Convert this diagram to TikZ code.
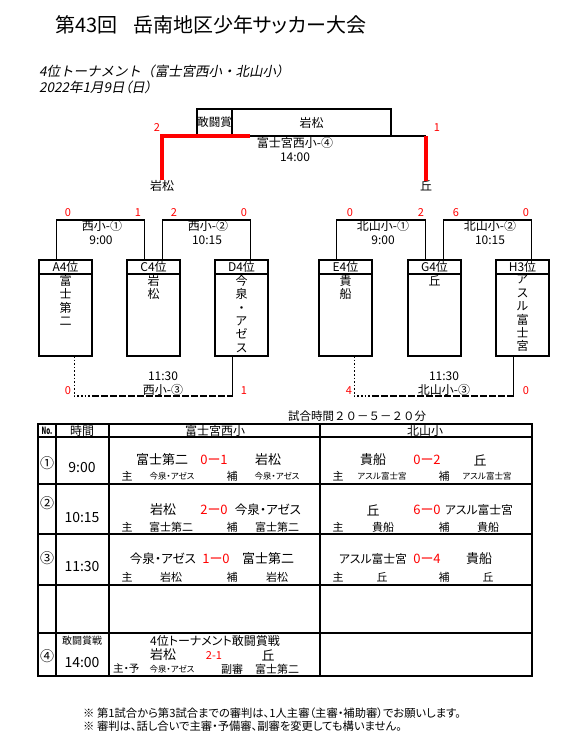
\documentclass[tikz,border=0pt]{standalone}
\usepackage{fontspec}
\setmainfont{Noto Sans CJK JP}[RawFeature=+palt]
\newfontfamily\widefont{Noto Sans CJK JP}
\newfontfamily\slantfont{Noto Sans CJK JP}[FakeSlant=0.2,RawFeature=+palt]
\newfontfamily\wideslant{Noto Sans CJK JP}[FakeSlant=0.2]
\usetikzlibrary{calc}

\newcommand{\fsz}[1]{\fontsize{#1bp}{#1bp}\selectfont}

\begin{document}
\begin{tikzpicture}[x=1bp, y=-1bp,
    line/.style={line width=1.6bp},
    win/.style={line width=3.2bp, red},
    grid/.style={line width=1.8bp},
    teambox/.style={draw, line width=1.6bp, minimum width=53bp, minimum height=96bp,
        inner sep=0pt, outer sep=0pt, anchor=north west},
    vtxt/.style={inner sep=0pt, anchor=north, align=center, font={\fontsize{12bp}{13.4bp}\selectfont}},
    txt/.style={inner sep=0pt, font=\fsz{12}},
    score/.style={inner sep=0pt, text=red, font=\fsz{11}},
    cell/.style={inner sep=0pt, font=\fsz{13}},
    pts/.style={inner sep=0pt, text=red, font=\fsz{13}},
    role/.style={inner sep=0pt, font=\fsz{11}},
    small/.style={inner sep=0pt, font=\fsz{8.5}},
    time/.style={inner sep=0pt, font=\fsz{14}}]
    \fill[white] (0,0) rectangle (569,737);
    \useasboundingbox (0,0) rectangle (569,737);

    % heading
    \node[inner sep=0pt, anchor=west, font=\fsz{20}] (title1) at (55,25) {第43回};
    \node[inner sep=0pt, anchor=west, font=\fsz{20}] (title2) at (133,25) {岳南地区少年サッカー大会};
    \node[inner sep=0pt, anchor=west, font=\wideslant\fsz{13.5}] (sub1) at (39,71) {4位トーナメント（富士宮西小・北山小）};
    \node[inner sep=0pt, anchor=west, font=\slantfont\fsz{13.5}] (sub2) at (39,87) {2022年1月9日（日）};

    % final for the award
    \node[draw, line width=1.6bp, minimum width=35bp, minimum height=27bp, inner sep=0pt, outer sep=0pt,
        anchor=north west, font=\fsz{11.5}] (award) at (197,109) {敢闘賞};
    \node[draw, line width=1.6bp, minimum width=159bp, minimum height=27bp, inner sep=0pt, outer sep=0pt,
        anchor=north west, font=\fsz{12}] (winner) at (232,109) {岩松};
    \node[txt] (finL) at (162,186) {岩松};
    \node[txt] (finR) at (426,186) {丘};
    \coordinate (fM) at (250,136);
    \draw[line] (fM) -- (fM -| finR.north);
    \draw[win] (finL.north) |- (fM);
    \draw[win] (finR.north) -- (finR.north |- fM);
    \node[score] (finLs) at (157,128) {2};
    \node[score] (finRs) at (437,128) {1};
    \node[txt] (finG) at (295,143) {富士宮西小-④};
    \node[txt] (finT) at (295,157) {14:00};

    % team boxes
    \foreach \nm/\x/\hd/\bd in {A4/39/A4位/{富\\士\\第\\二}, C4/127/C4位/{岩\\松},
        D4/215/D4位/{今\\泉\\・\\ア\\ゼ\\ス}, E4/319/E4位/{貴\\船}, G4/408/G4位/{丘},
        H3/496/H3位/{ア\\ス\\ル\\富\\士\\宮}} {
        \node[teambox] (\nm) at (\x,260) {};
        \draw[line] ($(\nm.north west)+(0,14)$) -- ($(\nm.north east)+(0,14)$);
        \node[txt] (\nm-hd) at ($(\nm.north)+(0,7)$) {\hd};
        \node[vtxt] (\nm-bd) at ($(\nm.north)+(0,15)$) {\bd};
    }

    % first and second games
    \draw[line] ($(A4.north west)!1/3!(A4.north east)$) -- ++(0,-40) -| ($(C4.north west)!1/3!(C4.north east)$);
    \draw[line] ($(C4.north west)!2/3!(C4.north east)$) -- ++(0,-40) -| ($(D4.north west)!2/3!(D4.north east)$);
    \draw[line] ($(E4.north west)!1/3!(E4.north east)$) -- ++(0,-40) -| ($(G4.north west)!1/3!(G4.north east)$);
    \draw[line] ($(G4.north west)!2/3!(G4.north east)$) -- ++(0,-40) -| ($(H3.north west)!2/3!(H3.north east)$);

    \node[txt] (w1) at (102,226) {西小-①};  \node[txt] (w1t) at (101,240) {9:00};
    \node[txt] (w2) at (208,226) {西小-②};  \node[txt] (w2t) at (207,240) {10:15};
    \node[txt] (k1) at (383,226) {北山小-①};  \node[txt] (k1t) at (383,240) {9:00};
    \node[txt] (k2) at (490,226) {北山小-②};  \node[txt] (k2t) at (490,240) {10:15};

    \node[score] (w1a) at (68,213) {0};   \node[score] (w1b) at (138,213) {1};
    \node[score] (w2a) at (174,213) {2};  \node[score] (w2b) at (244,213) {0};
    \node[score] (k1a) at (350,213) {0};  \node[score] (k1b) at (421,213) {2};
    \node[score] (k2a) at (456,213) {6};  \node[score] (k2b) at (526,213) {0};

    % third games
    \coordinate (A4s) at ($(A4.south west)!2/3!(A4.south east)$);
    \coordinate (D4s) at ($(D4.south west)!1/3!(D4.south east)$);
    \draw[line, dotted] (A4s) -- ++(0,40) -- ++(18,0) coordinate (w3a);
    \draw[line, dash pattern=on 7bp off 2bp] (w3a) -- (w3a -| D4s) coordinate (w3b);
    \draw[line] (w3b) -- (D4s);
    \coordinate (E4s) at ($(E4.south west)!2/3!(E4.south east)$);
    \coordinate (H3s) at ($(H3.south west)!1/3!(H3.south east)$);
    \draw[line, dotted] (E4s) -- ++(0,40) -- ++(18,0) coordinate (k3a);
    \draw[line, dash pattern=on 7bp off 2bp] (k3a) -- (k3a -| H3s) coordinate (k3b);
    \draw[line] (k3b) -- (H3s);

    \node[txt] (w3t) at (163,376) {11:30};  \node[txt] (w3) at (163,390) {西小-③};
    \node[txt] (k3t) at (444,376) {11:30};  \node[txt] (k3) at (444,390) {北山小-③};
    \node[score] (w3sa) at (68,391) {0};   \node[score] (w3sb) at (244,391) {1};
    \node[score] (k3sa) at (349,391) {4};  \node[score] (k3sb) at (526,391) {0};

    % schedule table
    \node[inner sep=0pt, font=\widefont\fsz{11.5}] (rule) at (357,416) {試合時間２０－５－２０分};
    \draw[grid] (38,424) rectangle (532,676);
    \foreach \y in {437,484,534,585,633} \draw[grid] (38,\y) -- (532,\y);
    \foreach \x in {56,109,320} \draw[grid] (\x,424) -- (\x,676);

    \node[inner sep=0pt, font=\bfseries\fsz{10}] (hNo) at (47,431) {\scalebox{0.62}[1]{No.}};
    \node[txt] (hTime) at (82,431) {時間};
    \node[txt] (hW) at (215,431) {富士宮西小};
    \node[txt] (hK) at (425,431) {北山小};

    % game 1
    \node[time] (n1) at (47,463) {①};  \node[time] (t1) at (82,468) {9:00};
    \node[cell] (g1a) at (162,460) {富士第二};  \node[pts] (g1s) at (214,460) {0ー1};  \node[cell] (g1b) at (268,460) {岩松};
    \node[role] (g1m) at (127,476) {主};  \node[small] (g1mr) at (172,476) {今泉・アゼス};
    \node[role] (g1h) at (232,476) {補};  \node[small] (g1hr) at (277,476) {今泉・アゼス};
    \node[cell] (h1a) at (373,460) {貴船};  \node[pts] (h1s) at (427,460) {0ー2};  \node[cell] (h1b) at (480,460) {丘};
    \node[role] (h1m) at (338,476) {主};  \node[small] (h1mr) at (382,476) {アスル富士宮};
    \node[role] (h1h) at (444,476) {補};  \node[small] (h1hr) at (487,476) {アスル富士宮};

    % game 2
    \node[time] (n2) at (47,503) {②};  \node[time] (t2) at (82,518) {10:15};
    \node[cell] (g2a) at (163,510) {岩松};  \node[pts] (g2s) at (214,510) {2ー0};
    \node[cell, font=\fsz{12.5}] (g2b) at (268,510) {今泉・アゼス};
    \node[role] (g2m) at (127,527) {主};  \node[role] (g2mr) at (171,527) {富士第二};
    \node[role] (g2h) at (232,527) {補};  \node[role] (g2hr) at (277,527) {富士第二};
    \node[cell] (h2a) at (373,510) {丘};  \node[pts] (h2s) at (427,510) {6ー0};
    \node[cell, font=\fsz{11.8}] (h2b) at (479,510) {アスル富士宮};
    \node[role] (h2m) at (338,527) {主};  \node[role] (h2mr) at (383,527) {貴船};
    \node[role] (h2h) at (444,527) {補};  \node[role] (h2hr) at (488,527) {貴船};

    % game 3
    \node[time] (n3) at (47,558) {③};  \node[time] (t3) at (82,567) {11:30};
    \node[cell, font=\fsz{12.5}] (g3a) at (163,559) {今泉・アゼス};  \node[pts] (g3s) at (216,559) {1ー0};  \node[cell] (g3b) at (268,559) {富士第二};
    \node[role] (g3m) at (127,577) {主};  \node[role] (g3mr) at (171,577) {岩松};
    \node[role] (g3h) at (232,577) {補};  \node[role] (g3hr) at (277,577) {岩松};
    \node[cell, font=\fsz{11.8}] (h3a) at (373,559) {アスル富士宮};  \node[pts] (h3s) at (427,559) {0ー4};  \node[cell] (h3b) at (479,559) {貴船};
    \node[role] (h3m) at (338,577) {主};  \node[role] (h3mr) at (382,577) {丘};
    \node[role] (h3h) at (444,577) {補};  \node[role] (h3hr) at (488,577) {丘};

    % game 4
    \node[time] (n4) at (47,656) {④};
    \node[inner sep=0pt, font=\fsz{10}] (t4a) at (82,641) {敢闘賞戦};
    \node[time] (t4) at (82,662) {14:00};
    \node[txt] (g4) at (215,641) {4位トーナメント敢闘賞戦};
    \node[cell] (g4a) at (163,655) {岩松};  \node[score] (g4s) at (214,655) {2-1};  \node[cell] (g4b) at (268,655) {丘};
    \node[inner sep=0pt, anchor=west, font=\fsz{10.5}] (g4m) at (113,669) {主・予};
    \node[small] (g4mr) at (172,669) {今泉・アゼス};
    \node[role] (g4h) at (232,669) {副審};  \node[role] (g4hr) at (277,669) {富士第二};

    % notes
    \node[inner sep=0pt, anchor=west, font=\fsz{11.3}] (note1) at (83,713) {※ 第1試合から第3試合までの審判は、1人主審（主審・補助審）でお願いします。};
    \node[inner sep=0pt, anchor=west, font=\fsz{11.3}] (note2) at (83,726) {※ 審判は、話し合いで主審・予備審、副審を変更しても構いません。};
\end{tikzpicture}
\end{document}
